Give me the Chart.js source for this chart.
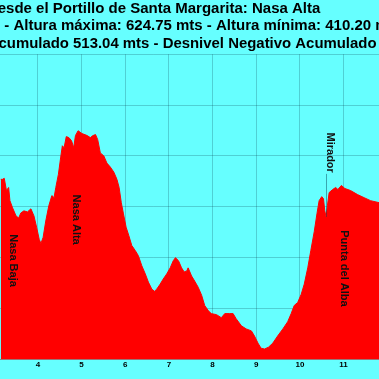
<!DOCTYPE html>
<html>
<head>
<meta charset="utf-8">
<script src="https://cdn.jsdelivr.net/npm/chart.js@4.4.1/dist/chart.umd.min.js"></script>
<style>
  html, body { margin: 0; padding: 0; background: #66ffff; }
  #wrap { position: relative; width: 379px; height: 379px; overflow: hidden; background: #66ffff; }
  #profile { position: absolute; left: -140px; top: 0; }
</style>
</head>
<body>
<div id="wrap"><canvas id="profile" width="597" height="379"></canvas></div>
<script>
// distance (km) and altitude (m)
var kms = [3.15, 3.19, 3.23, 3.28, 3.33, 3.36, 3.42, 3.50, 3.56, 3.61, 3.68, 3.76, 3.84, 3.91, 3.97,
  4.03, 4.07, 4.12, 4.18, 4.25, 4.32, 4.37, 4.41, 4.47, 4.52, 4.56, 4.60, 4.65, 4.71, 4.77, 4.82, 4.86, 4.92,
  5.01, 5.13, 5.20, 5.26, 5.32, 5.37, 5.43, 5.51, 5.58, 5.66, 5.74, 5.81, 5.86, 5.91, 5.96,
  6.02, 6.08, 6.15, 6.23, 6.30, 6.38, 6.46, 6.53, 6.61, 6.67, 6.72, 6.80, 6.87, 6.95,
  7.03, 7.10, 7.15, 7.22, 7.29, 7.35, 7.41, 7.44, 7.52, 7.59, 7.67, 7.75, 7.82, 7.90, 7.97,
  8.09, 8.20, 8.28, 8.39, 8.47, 8.54, 8.66, 8.77, 8.89, 8.96,
  9.04, 9.11, 9.19, 9.28, 9.38, 9.49, 9.61, 9.72, 9.80, 9.87, 9.95,
  10.03, 10.10, 10.18, 10.25, 10.33, 10.39, 10.44, 10.50, 10.54, 10.57, 10.60, 10.63, 10.67, 10.75, 10.82, 10.87, 10.95,
  11.03, 11.16, 11.32, 11.47, 11.62, 11.82, 11.95];
var altitudes = [577, 577, 578, 566, 569, 556, 549, 541, 539, 544, 546, 545, 548, 541, 530,
  518, 514, 520, 536, 551, 561, 559, 569, 582, 598, 610, 608, 619, 618, 615, 608, 620, 624.75,
  622, 620, 618, 620, 621, 616, 603, 600, 593, 589, 584, 577, 569, 554, 543,
  530, 522, 512, 507, 502, 492, 484, 476, 469, 467, 469, 474, 479, 484,
  490, 497, 500, 497, 490, 486, 487, 490, 482, 477, 471, 463, 453, 448, 445,
  444, 441, 445, 445, 445, 440, 433, 430, 428, 423,
  416, 411, 410.2, 412, 416, 423, 430, 437, 445, 453, 456,
  464, 474, 490, 507, 526, 543, 556, 560, 558, 546, 540, 551, 564, 567, 569, 567, 571,
  568, 566, 562, 559, 556, 554, 552];

// place names: km and altitude where the (vertical) text starts
var placeNames = ['Nasa Baja', 'Nasa Alta', 'Mirador', 'Punta del Alba'];
var placeKm = [3.36, 4.81, 10.61, 10.95];
var placeAlt = [523, 562, 623, 527];

var titleLines = ['Desde el Portillo de Santa Margarita: Nasa Alta'];
var subtitleLines = [
  'Ruta: 13 km - Altura máxima: 624.75 mts - Altura mínima: 410.20 mts',
  'Desnivel Positivo Acumulado 513.04 mts - Desnivel Negativo Acumulado 476.39 mts'
];

var gridColor = 'rgba(0,40,60,0.22)';
Chart.defaults.font.family = "'Liberation Sans', Arial, sans-serif";

var placeLabels = {
    id: 'placeLabels',
    afterDatasetsDraw: function(chart) {
        var ctx = chart.ctx;
        var x = chart.scales.x, y = chart.scales.y;
        ctx.save();
        ctx.font = "bold 11px 'Liberation Sans', Arial, sans-serif";
        ctx.fillStyle = '#111';
        ctx.textBaseline = 'alphabetic';
        placeNames.forEach(function(name, i) {
            var px = x.getPixelForValue(placeKm[i]);
            var py = y.getPixelForValue(placeAlt[i]);
            var len = ctx.measureText(name).width;

            // leader line down to the profile when the name sits above it
            var near = 0;
            kms.forEach(function(k, j) {
                if (Math.abs(k - placeKm[i]) < Math.abs(kms[near] - placeKm[i])) near = j;
            });
            var groundY = y.getPixelForValue(altitudes[near]);
            if (groundY > py + len) {
                ctx.strokeStyle = 'rgba(0,60,80,0.45)';
                ctx.lineWidth = 1;
                ctx.beginPath();
                ctx.moveTo(Math.round(px) - 0.5, py + len + 1);
                ctx.lineTo(Math.round(px) - 0.5, groundY);
                ctx.stroke();
            }

            ctx.save();
            ctx.translate(px, py);
            ctx.rotate(Math.PI / 2);
            ctx.fillText(name, 0, 0);
            ctx.restore();
        });
        ctx.restore();
    }
};

new Chart(document.getElementById('profile'), {
    type: 'line',
    data: {
        datasets: [{
            data: kms.map(function(k, i) { return {x: k, y: altitudes[i]}; }),
            borderColor: '#ff0000',
            backgroundColor: '#ff0000',
            borderWidth: 1,
            pointRadius: 0,
            tension: 0,
            fill: 'start'
        }]
    },
    options: {
        responsive: false,
        animation: false,
        layout: { padding: { left: 0, right: 0, top: 0, bottom: 8 } },
        plugins: {
            legend: { display: false },
            tooltip: { enabled: false },
            title: {
                display: true,
                text: titleLines,
                fullSize: false,
                color: '#000',
                font: { size: 15, weight: 'bold', lineHeight: 1.16 },
                padding: 0
            },
            subtitle: {
                display: true,
                text: subtitleLines,
                fullSize: true,
                color: '#000',
                font: { size: 15, weight: 'bold', lineHeight: 1.16 },
                padding: { top: 0, bottom: 2 }
            }
        },
        scales: {
            x: {
                type: 'linear',
                min: 0,
                max: 13.3,
                z: 1,
                grid: { color: gridColor, drawTicks: false },
                border: { color: '#888' },
                ticks: {
                    stepSize: 1,
                    autoSkip: false,
                    padding: 1,
                    color: '#000',
                    font: { size: 8, weight: 'bold' }
                }
            },
            y: {
                position: 'right',
                min: 400,
                max: 700,
                z: 1,
                grid: { color: gridColor, drawTicks: false },
                border: { display: false },
                ticks: { stepSize: 50, display: false },
                afterFit: function(scale) { scale.width = 13; }
            }
        }
    },
    plugins: [placeLabels]
});
</script>
</body>
</html>
